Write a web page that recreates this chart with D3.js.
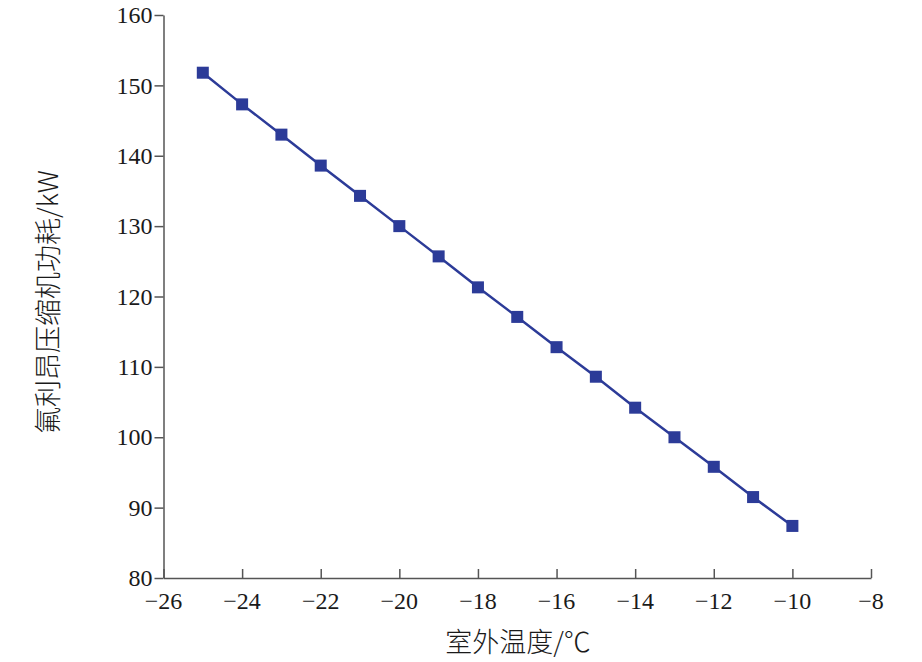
<!DOCTYPE html>
<html><head><meta charset="utf-8">
<script src="https://cdn.jsdelivr.net/npm/d3@7"></script>
<style>body{margin:0;background:#fff}svg{display:block}
svg text.num{font:24px "Liberation Serif", "Times New Roman", serif;}</style>
</head><body>
<script>
const temps = [-25,-24,-23,-22,-21,-20,-19,-18,-17,-16,-15,-14,-13,-12,-11,-10];
const power = [151.8,147.3,143.0,138.6,134.3,130.0,125.7,121.3,117.1,112.8,108.6,104.2,100.0,95.8,91.5,87.4];
const xTicks = [-26,-24,-22,-20,-18,-16,-14,-12,-10,-8];
const yTicks = [80,90,100,110,120,130,140,150,160];
const xLabel = "室外温度/℃";
const yLabel = "氟利昂压缩机功耗/kW";

const W=922,H=662;
const svg=d3.select("body").append("svg").attr("width",W).attr("height",H);
const x=d3.scaleLinear().domain([-26,-8]).range([163.5,871]);
const y=d3.scaleLinear().domain([80,160]).range([578,15]);
const axisColor="#555";

const gx=svg.append("g").attr("transform","translate(0,578)")
  .call(d3.axisBottom(x).tickValues(xTicks).tickSizeInner(-9).tickSizeOuter(0).tickFormat(""));
const gy=svg.append("g").attr("transform","translate(163.5,0)")
  .call(d3.axisLeft(y).tickValues(yTicks).tickSizeInner(9).tickSizeOuter(0).tickFormat(""));
[gx,gy].forEach(g=>{
  g.select(".domain").attr("stroke",axisColor).attr("stroke-width",1.5);
  g.selectAll(".tick line").attr("stroke",axisColor).attr("stroke-width",1.5);
});

const lab=svg.append("g");
lab.selectAll("text.xl").data(xTicks).enter().append("text").attr("class","num xl")
  .attr("x",d=>x(d)).attr("y",578+23).attr("dy","0.35em").attr("text-anchor","middle")
  .attr("fill","#1a1a1a")
  .text(d=>String(d).replace("-","\u2212"));
lab.selectAll("text.yl").data(yTicks).enter().append("text").attr("class","num yl")
  .attr("x",163.5-11).attr("y",d=>y(d)).attr("dy","0.34em").attr("text-anchor","end")
  .attr("fill","#1a1a1a")
  .text(d=>d);

const line=d3.line().x((d,i)=>x(temps[i])).y(d=>y(d));
svg.append("path").datum(power).attr("d",line).attr("fill","none").attr("stroke","#2c3b98").attr("stroke-width",2.5);
svg.selectAll("rect.m").data(power).enter().append("rect").attr("class","m")
  .attr("x",(d,i)=>x(temps[i])-6).attr("y",d=>y(d)-6).attr("width",12).attr("height",12).attr("fill","#2c3b98");

svg.append("text").attr("x",518).attr("y",652).attr("text-anchor","middle")
  .style("font-family","'Noto Sans CJK SC',sans-serif").style("font-weight",300).style("font-size","27px").style("fill","#1a1a1a").text(xLabel);
svg.append("text").attr("transform","translate(58,302) rotate(-90)").attr("text-anchor","middle")
  .style("font-family","'Noto Sans CJK SC',sans-serif").style("font-weight",300).style("font-size","27px").style("fill","#1a1a1a").text(yLabel);
</script>
</body></html>
